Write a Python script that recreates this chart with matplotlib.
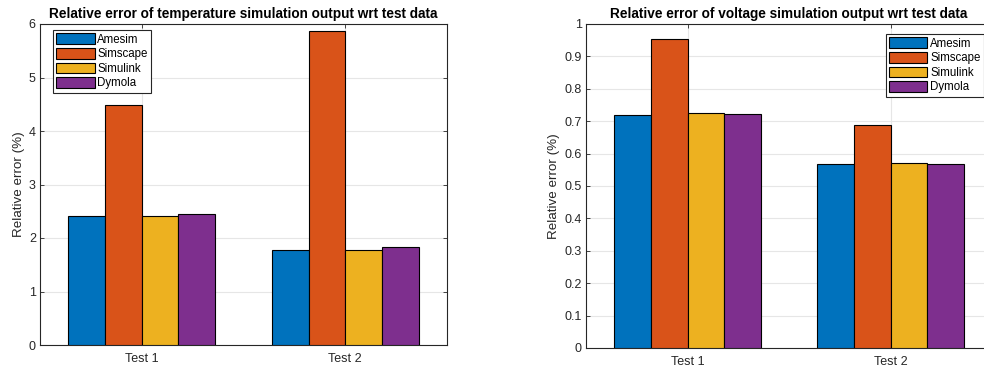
import numpy as np
import matplotlib
matplotlib.use("Agg")
import matplotlib.pyplot as plt

plt.rcParams['font.family'] = ['Liberation Sans', 'DejaVu Sans']

# data
tests = ['Test 1', 'Test 2']
tools = ['Amesim', 'Simscape', 'Simulink', 'Dymola']
temp_err = {
    'Amesim': [2.41, 1.78],
    'Simscape': [4.48, 5.86],
    'Simulink': [2.41, 1.78],
    'Dymola': [2.45, 1.84],
}
volt_err = {
    'Amesim': [0.720, 0.567],
    'Simscape': [0.953, 0.687],
    'Simulink': [0.725, 0.571],
    'Dymola': [0.723, 0.569],
}
colors = ['#0072BD', '#D95319', '#EDB120', '#7E2F8E']
axcol = '#262626'


def bar_panel(ax, data, title, ylim, yticks, ytick_labels, legend_loc, legend_anchor):
    x = np.arange(1, len(tests) + 1)
    w = 0.18
    for i, name in enumerate(tools):
        ax.bar(x + (i - 1.5) * w, data[name], width=w, color=colors[i],
               edgecolor='black', linewidth=0.8, label=name, zorder=3)
    ax.set_xlim(0.5, 2.5)
    ax.set_ylim(*ylim)
    ax.set_xticks(x)
    ax.set_xticklabels(tests)
    ax.set_yticks(yticks)
    ax.set_yticklabels(ytick_labels)
    ax.grid(True, color='#e6e6e6', linewidth=0.8, zorder=0)
    ax.set_axisbelow(True)
    ax.tick_params(direction='in', length=3, width=0.6, colors=axcol,
                   labelsize=9, top=True, right=True, pad=3)
    ax.tick_params(axis='x', pad=6)
    for s in ax.spines.values():
        s.set_color(axcol)
        s.set_linewidth(0.8)
    ax.set_ylabel('Relative error (%)', fontsize=9.6, color=axcol, labelpad=3)
    ax.set_title(title, fontsize=9.8, fontweight='bold', pad=4)
    leg = ax.legend(loc=legend_loc, bbox_to_anchor=legend_anchor, fontsize=8.3,
                    fancybox=False, framealpha=1, edgecolor=axcol,
                    handlelength=3.3, handleheight=1.05, handletextpad=0.25,
                    labelspacing=0.2, borderpad=0.3, borderaxespad=0)
    leg.get_frame().set_linewidth(0.8)


fig = plt.figure(figsize=(9.84, 3.70), dpi=100)
fig.patch.set_facecolor('white')

ax1 = fig.add_axes([40 / 984, 25 / 370, 407 / 984, 321 / 370])
bar_panel(ax1, temp_err, 'Relative error of temperature simulation output wrt test data',
          (0, 6), range(0, 7), [str(v) for v in range(0, 7)],
          'upper left', (13 / 407, 1 - 6 / 321))

ax2 = fig.add_axes([586 / 984, 22 / 370, 406 / 984, 324 / 370])
yt = np.round(np.arange(0, 1.01, 0.1), 1)
bar_panel(ax2, volt_err, 'Relative error of voltage simulation output wrt test data',
          (0, 1), yt, ['0'] + [f'{v:g}' for v in yt[1:-1]] + ['1'],
          'upper right', (1 - 8 / 406, 1 - 10 / 324))

fig.savefig('out.png', dpi=100)
